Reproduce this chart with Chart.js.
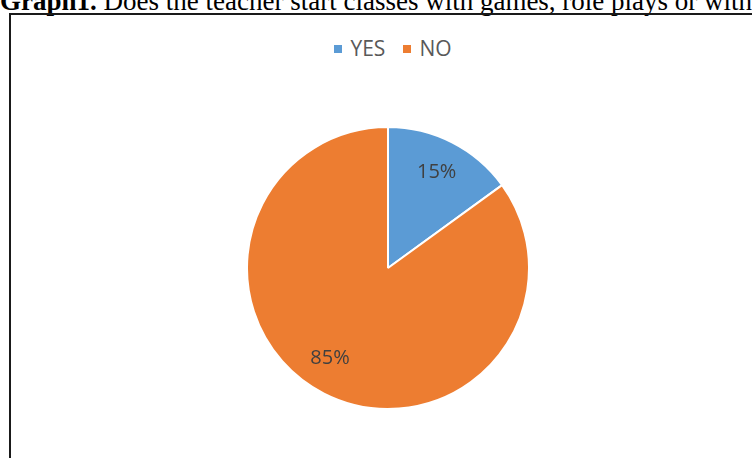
<!DOCTYPE html>
<html>
<head>
<meta charset="utf-8">
<script src="https://cdn.jsdelivr.net/npm/chart.js@4.4.0/dist/chart.umd.min.js"></script>
<style>
  html, body { margin: 0; padding: 0; background: #fff; overflow: hidden; }
  body { width: 752px; height: 458px; position: relative; }
  #title { position: absolute; left: 0; top: -12px; white-space: nowrap;
    font-family: "Liberation Serif", "Times New Roman", serif; font-size: 27px; color: #000; line-height: 27px; }
  #frame { position: absolute; left: 9px; top: 13px; width: 800px; height: 500px;
    border: 2px solid #1a1a1a; box-sizing: border-box; }
  #legend { position: absolute; top: 38px; left: 17px; width: 752px; text-align: center; line-height: 21px;
    font-family: "Open Sans", "Liberation Sans", sans-serif; font-size: 21px; color: #595959; white-space: nowrap; }
  #legend span.item { margin: 0 9px; }
  #legend span.box { display: inline-block; width: 8px; height: 8px; margin-right: 8px; vertical-align: 3px; }
  #wrap { position: absolute; left: 246px; top: 126px; width: 284px; height: 284px; }
</style>
</head>
<body>
<div id="title"><b>Graph1.</b> Does the teacher start classes with games, role plays or with</div>
<div id="frame"></div>
<div id="legend"></div>
<div id="wrap"><canvas id="c"></canvas></div>
<script>
const categories = ["YES", "NO"];
const values = [15, 85];
const colors = ["#5B9BD5", "#ED7D31"];

const legend = document.getElementById('legend');
categories.forEach((c, i) => {
  const item = document.createElement('span');
  item.className = 'item';
  const box = document.createElement('span');
  box.className = 'box';
  box.style.background = colors[i];
  item.appendChild(box);
  item.appendChild(document.createTextNode(c));
  legend.appendChild(item);
});

const labelPlugin = {
  id: 'pctLabels',
  afterDatasetsDraw(chart) {
    const ctx = chart.ctx;
    const meta = chart.getDatasetMeta(0);
    const total = values.reduce((a, b) => a + b, 0);
    ctx.save();
    ctx.font = '20px "Open Sans", "Liberation Sans", sans-serif';
    ctx.fillStyle = '#404040';
    ctx.textAlign = 'center';
    ctx.textBaseline = 'middle';
    meta.data.forEach((arc, i) => {
      const p = arc.getProps(['x', 'y', 'startAngle', 'endAngle', 'outerRadius'], true);
      const mid = (p.startAngle + p.endAngle) / 2 + (i === 1 ? 0.1 : 0);
      const r = p.outerRadius * 0.76;
      ctx.fillText(Math.round(values[i] / total * 100) + '%', p.x + Math.cos(mid) * r, p.y + Math.sin(mid) * r);
    });
    ctx.restore();
  }
};

new Chart(document.getElementById('c'), {
  type: 'pie',
  data: {
    labels: categories,
    datasets: [{ data: values, backgroundColor: colors, borderColor: '#ffffff', borderWidth: 2 }]
  },
  options: {
    responsive: true,
    maintainAspectRatio: false,
    animation: false,
    layout: { padding: 0 },
    plugins: { legend: { display: false }, tooltip: { enabled: false } }
  },
  plugins: [labelPlugin]
});
</script>
</body>
</html>
